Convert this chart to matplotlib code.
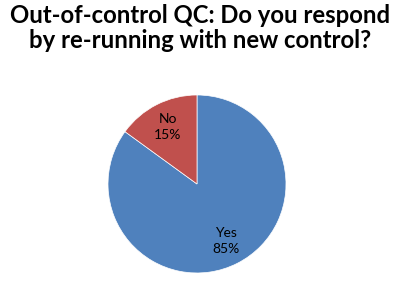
import matplotlib.pyplot as plt

labels = ["Yes", "No"]
shares = [85, 15]
colors = ["#4F81BD", "#C0504D"]
title = "Out-of-control QC: Do you respond\nby re-running with new control?"

fig = plt.figure(figsize=(4, 2.81), dpi=100)
fig.patch.set_facecolor("white")

fig.text(0.5, 0.985, title, ha="center", va="top", fontsize=17.2,
         fontweight="bold", family="Lato", linespacing=1.1)

ax = fig.add_axes([0.2700, 0.0285, 0.445, 0.6335])
wedges, texts = ax.pie(shares, colors=colors, startangle=90, counterclock=False,
                       labels=[f"{l}\n{s}%" for l, s in zip(labels, shares)],
                       labeldistance=0.72,
                       textprops=dict(fontsize=10, family="Lato", ha="center",
                                      va="center", linespacing=1.45),
                       wedgeprops=dict(linewidth=0.5, edgecolor="white"))
ax.set_xlim(-1, 1)
ax.set_ylim(-1, 1)
ax.set_aspect("equal")
ax.axis("off")

fig.savefig("out.png", dpi=100)
